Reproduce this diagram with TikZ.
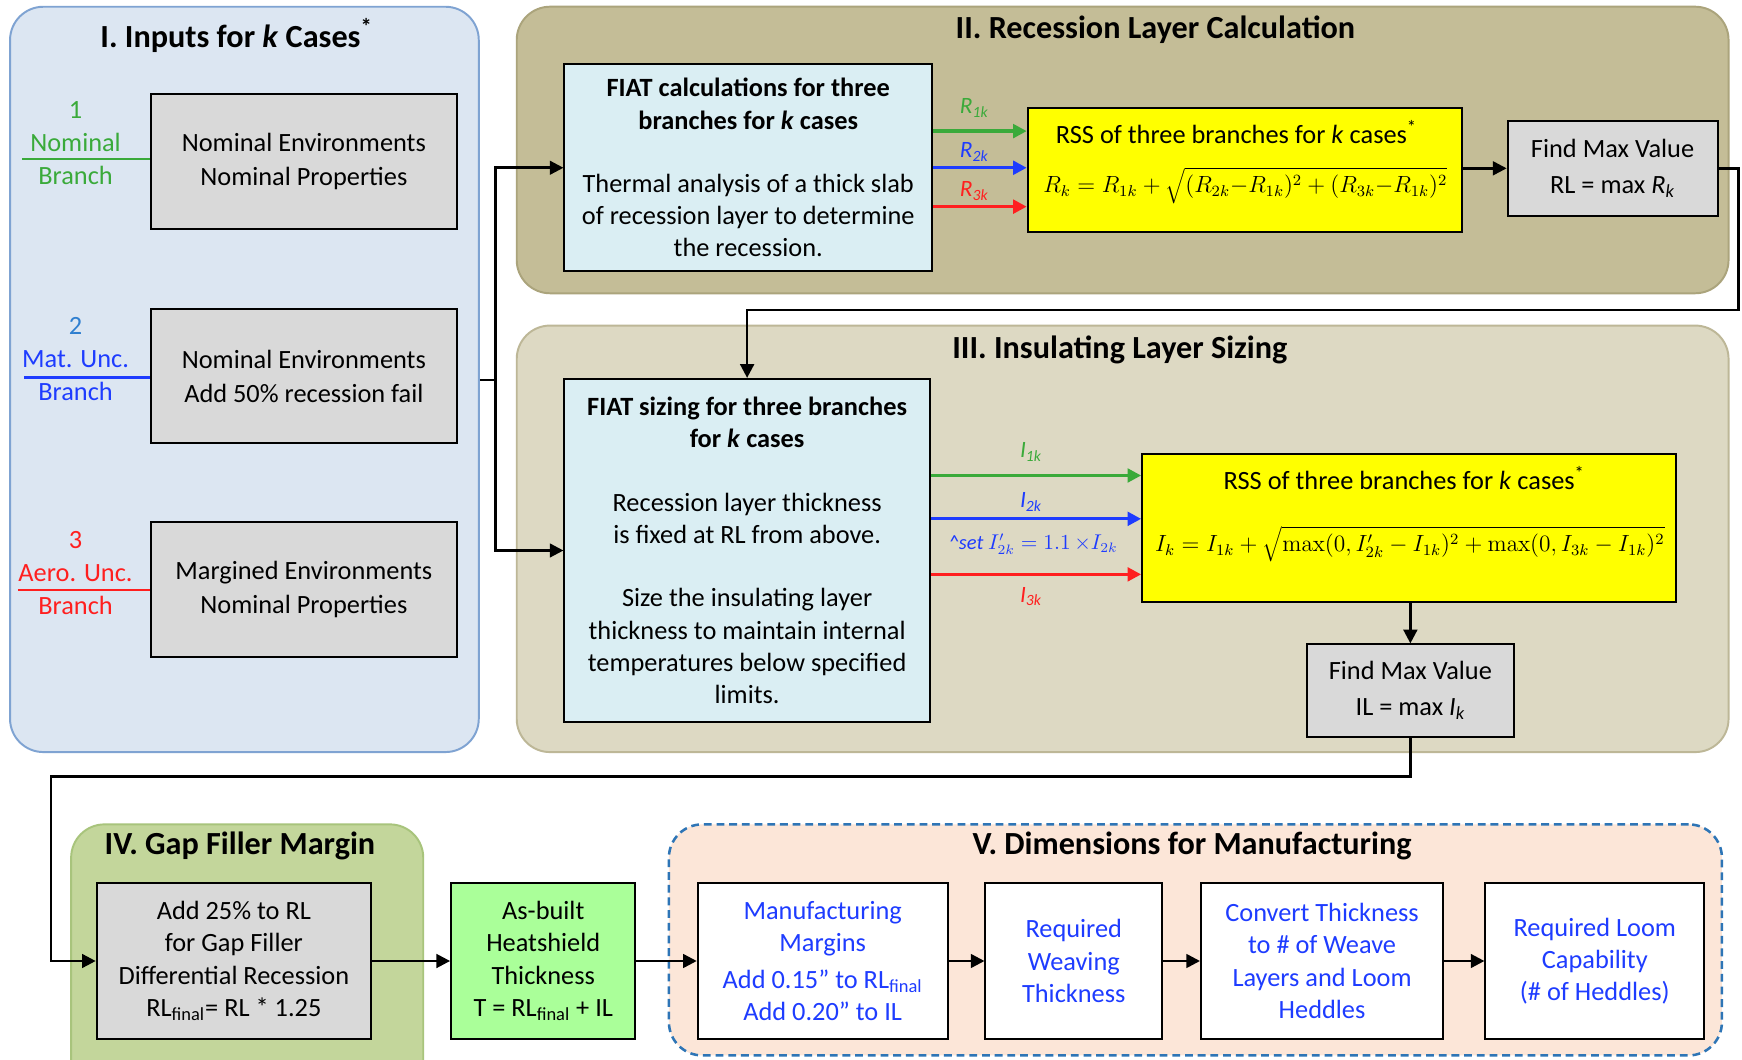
\documentclass[tikz,border=0pt]{standalone}
\usepackage[no-math]{fontspec}
\setmainfont{Carlito}
\usetikzlibrary{arrows.meta,calc}
\definecolor{pIfill}{HTML}{DCE6F2}
\definecolor{pIdraw}{HTML}{7FA3D2}
\definecolor{pIIfill}{HTML}{C4BD97}
\definecolor{pIIdraw}{HTML}{ABA47C}
\definecolor{pIIIfill}{HTML}{DDD9C3}
\definecolor{pIIIdraw}{HTML}{BDB797}
\definecolor{pIVfill}{HTML}{C3D69B}
\definecolor{pIVdraw}{HTML}{A8C47C}
\definecolor{pVfill}{HTML}{FCE6D8}
\definecolor{pVdraw}{HTML}{2E75B6}
\definecolor{fiat}{HTML}{DAEEF3}
\definecolor{grayb}{HTML}{D9D9D9}
\definecolor{ylw}{HTML}{FFFF00}
\definecolor{abuilt}{HTML}{AAFF99}
\definecolor{cg}{HTML}{3AAA3A}
\definecolor{cb}{HTML}{1E3CFF}
\definecolor{cr}{HTML}{FF1F1F}
\definecolor{cbl}{HTML}{2F7FD0}
\begin{document}
\begin{tikzpicture}[x=0.02cm,y=-0.02cm,
  panel/.style={rectangle, rounded corners=0.6cm, line width=1pt, inner sep=0pt},
  box/.style={rectangle, draw=black, line width=1pt, inner sep=2pt, align=center,
    font=\fontsize{13.5}{16.5}\selectfont},
  txt/.style={inner sep=0pt, align=center, font=\fontsize{13.5}{16.5}\selectfont},
  fml/.style={inner sep=0pt, align=center, font=\fontsize{11.6}{14}\selectfont},
  ttl/.style={inner sep=0pt, font=\fontsize{16.5}{19}\selectfont\bfseries},
  lbl/.style={inner sep=0pt, align=center, font=\fontsize{13.5}{17}\selectfont},
  sml/.style={inner sep=0pt, font=\fontsize{12}{14}\selectfont\itshape},
  arr/.style={line width=1.3pt, -{Triangle[length=7pt,width=7pt]}},
  carr/.style={line width=1.7pt, -{Triangle[length=7pt,width=7pt]}},
  bline/.style={line width=1.3pt}]
\clip (0,0) rectangle (1568,954);
\fill[white] (0,0) rectangle (1568,954);
% ---------- panels
\node[panel, draw=pIdraw, fill=pIfill, minimum width=8.44cm, minimum height=13.42cm] (pI) at (220,341.5) {};
\node[panel, draw=pIIdraw, fill=pIIfill, minimum width=21.82cm, minimum height=5.16cm] (pII) at (1010.5,135) {};
\node[panel, draw=pIIIdraw, fill=pIIIfill, minimum width=21.82cm, minimum height=7.68cm] (pIII) at (1010.5,485) {};
\node[panel, draw=pIVdraw, fill=pIVfill, minimum width=6.34cm, minimum height=4.96cm] (pIV) at (222.5,866) {};
\node[panel, draw=pVdraw, fill=pVfill, dashed, dash pattern=on 4pt off 2.5pt, line width=1.3pt, minimum width=18.96cm, minimum height=4.16cm] (pV) at (1076,846) {};
% ---------- titles
\node[ttl] (tI) at (213,32) {I. Inputs for \textit{k} Cases\textsuperscript{*}};
\node[ttl] (tII) at (1040,27) {II. Recession Layer Calculation};
\node[ttl] (tIII) at (1008,315) {III. Insulating Layer Sizing};
\node[ttl] (tIV) at (216,761) {IV. Gap Filler Margin};
\node[ttl] (tV) at (1073,761) {V. Dimensions for Manufacturing};
% ---------- panel I
\node[box, fill=grayb, minimum width=5.5cm, minimum height=2.42cm] (b1) at (273.5,145.5) {Nominal Environments\\[1pt]Nominal Properties};
\node[box, fill=grayb, minimum width=5.5cm, minimum height=2.42cm] (b2) at (273.5,338.5) {Nominal Environments\\[1pt]Add 50\% recession fail};
\node[box, fill=grayb, minimum width=5.5cm, minimum height=2.42cm] (b3) at (273.5,530.5) {Margined Environments\\[1pt]Nominal Properties};
\node[lbl, text=cg] (l1) at (68,129) {1\\Nominal\\Branch};
\node[lbl, text=cb] (l2) at (68,323) {{\color{cbl}2}\\Mat. Unc.\\Branch};
\node[lbl, text=cr] (l3) at (68,516) {3\\Aero. Unc.\\Branch};
\coordinate (u1) at (20,143);
\coordinate (u2) at (22,340);
\coordinate (u3) at (16,531);
\draw[cg, bline] (u1) -- (u1 -| b1.west);
\draw[cb, bline] (u2) -- (u2 -| b2.west);
\draw[cr, bline] (u3) -- (u3 -| b3.west);
% ---------- panel II
\node[box, fill=fiat, minimum width=6.62cm, minimum height=3.72cm] (f1) at (673.5,151)
  {\textbf{FIAT calculations for three}\\\textbf{branches for \textit{k} cases}\\[16pt]Thermal analysis of a thick slab\\of recession layer to determine\\the recession.};
\node[box, fill=ylw, minimum width=7.82cm, minimum height=2.24cm] (y1) at (1120.5,153) {};
\node[txt] (y1t) at (1113,119) {RSS of three branches for \textit{k} cases\textsuperscript{*}};
\node[fml] (y1f) at (1121,167) {$R_k = R_{1k} + \sqrt{(R_{2k}{-}R_{1k})^2 + (R_{3k}{-}R_{1k})^2}$};
\node[box, fill=grayb, minimum width=3.78cm, minimum height=1.7cm] (fm1) at (1451.5,151.5) {Find Max Value\\[2pt]RL = max \textit{R\textsubscript{k}}};
\draw[carr, cg] (f1.east |- 0,118) -- (y1.west |- 0,118);
\draw[carr, cb] (f1.east |- 0,151) -- (y1.west |- 0,151);
\draw[carr, cr] (f1.east |- 0,186) -- (y1.west |- 0,186);
\node[sml, text=cg] (r1) at (877,97) {R\textsubscript{1k}};
\node[sml, text=cb] (r2) at (877,137) {R\textsubscript{2k}};
\node[sml, text=cr] (r3) at (877,172) {R\textsubscript{3k}};
\draw[arr] (y1.east |- fm1.west) -- (fm1.west);
% ---------- panel III
\node[box, fill=fiat, minimum width=6.58cm, minimum height=6.18cm] (f2) at (672.5,495.5)
  {\textbf{FIAT sizing for three branches}\\\textbf{for \textit{k} cases}\\[16pt]Recession layer thickness\\is fixed at RL from above.\\[16pt]Size the insulating layer\\thickness to maintain internal\\temperatures below specified\\limits.};
\node[box, fill=ylw, minimum width=9.62cm, minimum height=2.66cm] (y2) at (1268.5,475.5) {};
\node[txt] (y2t) at (1264,430) {RSS of three branches for \textit{k} cases\textsuperscript{*}};
\node[fml] (y2f) at (1269,490) {$I_k = I_{1k} + \sqrt{\max(0, I'_{2k} - I_{1k})^2 + \max(0, I_{3k} - I_{1k})^2}$};
\node[box, fill=grayb, minimum width=3.74cm, minimum height=1.66cm] (fm2) at (1269.5,621.5) {Find Max Value\\[2pt]IL = max \textit{I\textsubscript{k}}};
\draw[carr, cg] (f2.east |- 0,428) -- (y2.west |- 0,428);
\draw[carr, cb] (f2.east |- 0,467) -- (y2.west |- 0,467);
\draw[carr, cr] (f2.east |- 0,517) -- (y2.west |- 0,517);
\node[sml, text=cg] (i1) at (928,407) {I\textsubscript{1k}};
\node[sml, text=cb] (i2) at (928,452) {I\textsubscript{2k}};
\node[sml, text=cb, font=\fontsize{10.5}{12}\selectfont\itshape] (iset) at (930,490) {\^{}set $I'_{2k} = 1.1\,{\times} I_{2k}$};
\node[sml, text=cr] (i3) at (928,537) {I\textsubscript{3k}};
\draw[arr] (y2.south -| fm2.north) -- (fm2.north);
% ---------- bracket from panel I
\coordinate (br) at (446,342);
\draw[bline] (pI.east |- br) -- (br);
\draw[arr] (br) |- (f1.west);
\draw[arr] (br) |- (f2.west);
% ---------- RL to panel III
\coordinate (cR) at (1565,279);
\draw[arr] (fm1.east) -| (cR) -| (f2.north);
% ---------- panel IV / V
\node[box, fill=grayb, minimum width=4.94cm, minimum height=2.8cm] (gap) at (210.5,865)
  {Add 25\% to RL\\for Gap Filler\\Differential Recession\\RL\textsubscript{final}= RL * 1.25};
\node[box, fill=abuilt, minimum width=3.32cm, minimum height=2.8cm] (ab) at (489,865)
  {As-built\\Heatshield\\Thickness\\T = RL\textsubscript{final} + IL};
\node[box, fill=white, text=cb, minimum width=4.5cm, minimum height=2.8cm] (m1) at (740.5,865)
  {Manufacturing\\Margins\\[2pt]Add 0.15” to RL\textsubscript{final}\\Add 0.20” to IL};
\node[box, fill=white, text=cb, minimum width=3.18cm, minimum height=2.8cm] (m2) at (966.5,865)
  {Required\\Weaving\\Thickness};
\node[box, fill=white, text=cb, minimum width=4.36cm, minimum height=2.8cm] (m3) at (1190,865)
  {Convert Thickness\\to \# of Weave\\Layers and Loom\\Heddles};
\node[box, fill=white, text=cb, minimum width=3.94cm, minimum height=2.8cm] (m4) at (1435.5,865)
  {Required Loom\\Capability\\(\# of Heddles)};
\coordinate (cL) at (46,699);
\draw[arr] (fm2.south) |- (cL) |- (gap.west);
\draw[arr] (gap.east) -- (ab.west);
\draw[arr] (ab.east) -- (m1.west);
\draw[arr] (m1.east) -- (m2.west);
\draw[arr] (m2.east) -- (m3.west);
\draw[arr] (m3.east) -- (m4.west);
\end{tikzpicture}
\end{document}
